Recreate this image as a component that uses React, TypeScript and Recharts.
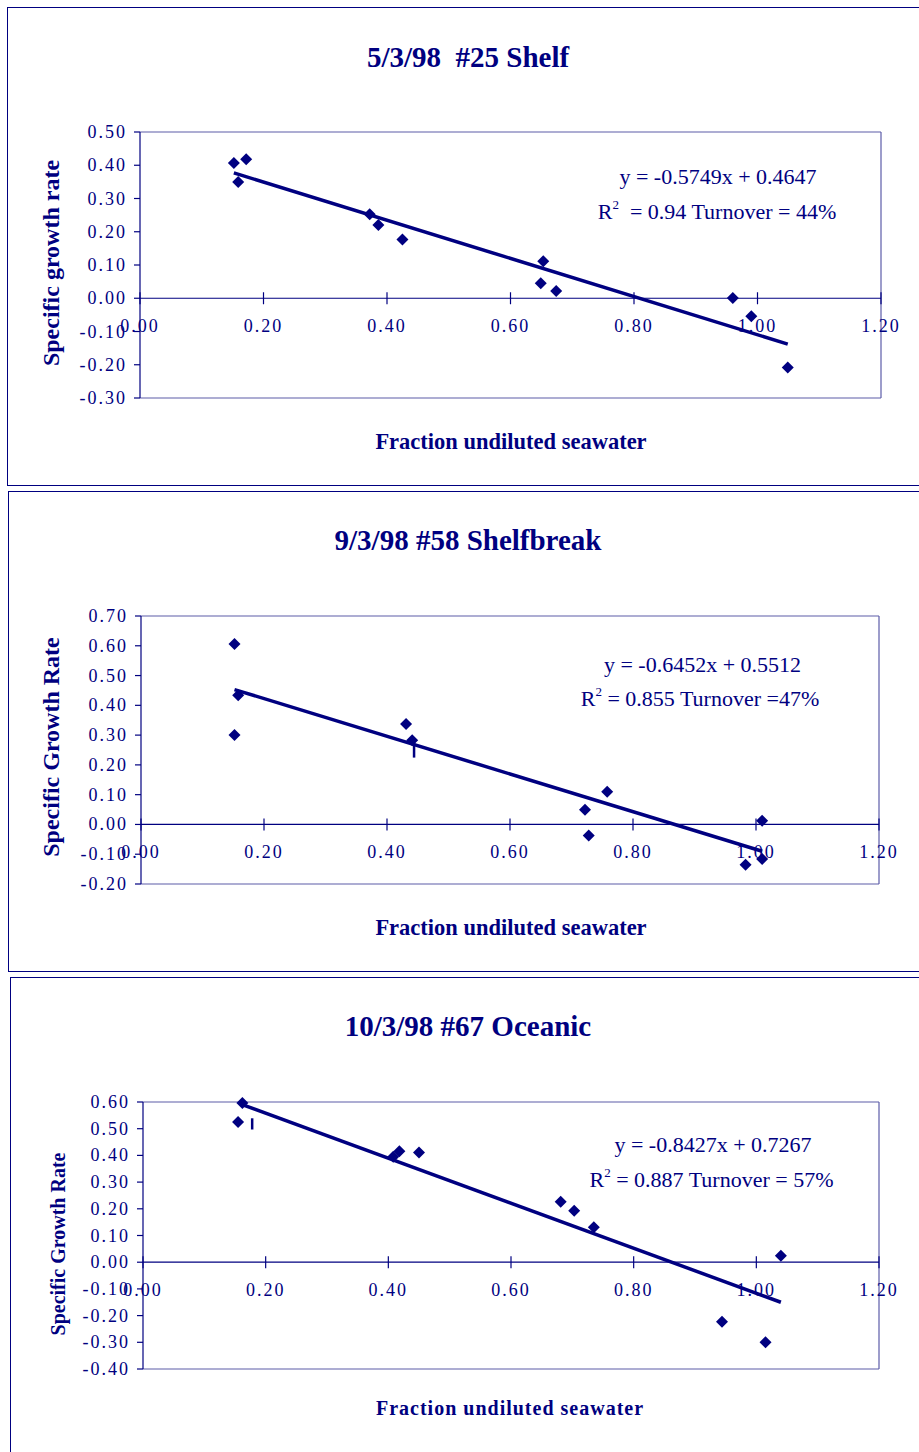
import React from "react";
import {
  ScatterChart,
  Scatter,
  XAxis,
  YAxis,
  ReferenceLine,
  ErrorBar,
} from "recharts";

const NAVY = "#000080";
const BOX = "#5c5ca8";
const FONT = '"Liberation Serif", "Times New Roman", Times, serif';

// ---------- data ----------
const xTicks = [0, 0.2, 0.4, 0.6, 0.8, 1.0, 1.2];

// Panel 1: 5/3/98 #25 Shelf
const shelfX = [0.152, 0.172, 0.159, 0.372, 0.386, 0.425, 0.653, 0.649, 0.674, 0.96, 0.99, 1.049];
const shelfY = [0.407, 0.418, 0.35, 0.253, 0.22, 0.177, 0.111, 0.045, 0.022, 0.001, -0.054, -0.208];
const shelfTrendX = [0.152, 1.049];
const shelfTrendY = [0.377, -0.138];
const shelfYTicks = [-0.3, -0.2, -0.1, 0, 0.1, 0.2, 0.3, 0.4, 0.5];

// Panel 2: 9/3/98 #58 Shelfbreak
const breakX = [0.152, 0.158, 0.152, 0.431, 0.441, 0.758, 0.722, 0.728, 1.01, 1.01, 0.983];
const breakY = [0.606, 0.434, 0.3, 0.337, 0.283, 0.11, 0.049, -0.037, 0.012, -0.116, -0.135];
const breakTrendX = [0.152, 1.01];
const breakTrendY = [0.453, -0.09];
const breakMarkX = [0.444];
const breakMarkY = [0.2545];
const breakMarkErr = [0.03];
const breakYTicks = [-0.2, -0.1, 0, 0.1, 0.2, 0.3, 0.4, 0.5, 0.6, 0.7];

// Panel 3: 10/3/98 #67 Oceanic
const oceanX = [0.162, 0.155, 0.408, 0.418, 0.45, 0.681, 0.703, 0.735, 1.04, 0.944, 1.015];
const oceanY = [0.596, 0.525, 0.395, 0.416, 0.411, 0.226, 0.193, 0.131, 0.024, -0.223, -0.3];
const oceanTrendX = [0.163, 1.04];
const oceanTrendY = [0.589, -0.15];
const oceanMarkX = [0.178];
const oceanMarkY = [0.518];
const oceanMarkErr = [0.021];
const oceanYTicks = [-0.4, -0.3, -0.2, -0.1, 0, 0.1, 0.2, 0.3, 0.4, 0.5, 0.6];

const zip = (xs: number[], ys: number[]) => xs.map((x, i) => ({ x, y: ys[i] }));
const zipErr = (xs: number[], ys: number[], es: number[]) =>
  xs.map((x, i) => ({ x, y: ys[i], err: es[i] }));

// ---------- shapes ----------
const Diamond = (props: any) => {
  const { cx, cy } = props;
  if (cx == null || cy == null) return <g />;
  const r = 6;
  return (
    <path
      d={`M${cx},${cy - r}L${cx + r},${cy}L${cx},${cy + r}L${cx - r},${cy}Z`}
      fill={NAVY}
    />
  );
};
const Empty = () => <g />;

const X_AXIS_H = 1;

type PanelProps = {
  top: number;
  height: number;
  margin: { top: number; right: number; bottom: number; left: number };
  yWidth: number;
  yDomain: [number, number];
  yTicks: number[];
  points: { x: number; y: number }[];
  trend: { x: number; y: number }[];
  marks?: { x: number; y: number; err: number }[];
};

function Panel({ top, height, margin, yWidth, yDomain, yTicks, points, trend, marks }: PanelProps) {
  const plotH = height - margin.top - margin.bottom - X_AXIS_H;
  const zeroY = margin.top + (plotH * yDomain[1]) / (yDomain[1] - yDomain[0]);

  const XTick = (p: any) => {
    const { x, payload } = p;
    return (
      <g>
        <line x1={x} x2={x} y1={zeroY - 6} y2={zeroY + 6} stroke={NAVY} strokeWidth={1.2} />
        <text
          x={x}
          y={zeroY + 28}
          textAnchor="middle"
          dominantBaseline="central"
          fontFamily={FONT}
          fontSize={18}
          letterSpacing={2}
          fill={NAVY}
        >
          {Number(payload.value).toFixed(2)}
        </text>
      </g>
    );
  };

  const YTick = (p: any) => {
    const { x, y, payload } = p;
    return (
      <text
        x={x}
        y={y}
        textAnchor="end"
        dominantBaseline="central"
        fontFamily={FONT}
        fontSize={18}
        letterSpacing={2}
        fill={NAVY}
      >
        {Number(payload.value).toFixed(2)}
      </text>
    );
  };

  return (
    <div style={{ position: "absolute", left: 0, top, width: 919, height }}>
      <ScatterChart width={919} height={height} margin={margin}>
        <XAxis
          type="number"
          dataKey="x"
          domain={[0, 1.2]}
          ticks={xTicks}
          interval={0}
          axisLine={false}
          tickLine={false}
          tick={XTick}
          height={X_AXIS_H}
        />
        <YAxis
          type="number"
          dataKey="y"
          domain={yDomain}
          ticks={yTicks}
          interval={0}
          width={yWidth}
          axisLine={{ stroke: NAVY, strokeWidth: 1.2 }}
          tickLine={{ stroke: NAVY, strokeWidth: 1.2 }}
          tickSize={6}
          tickMargin={7}
          tick={YTick}
        />
        <ReferenceLine y={yDomain[1]} stroke={BOX} strokeWidth={1.2} />
        <ReferenceLine y={yDomain[0]} stroke={BOX} strokeWidth={1.2} />
        <ReferenceLine x={1.2} stroke={BOX} strokeWidth={1.2} />
        <ReferenceLine y={0} stroke={NAVY} strokeWidth={1.2} />
        <Scatter
          data={trend}
          line={{ stroke: NAVY, strokeWidth: 3.5 }}
          shape={Empty}
          isAnimationActive={false}
        />
        <Scatter data={points} shape={Diamond} isAnimationActive={false} />
        {marks ? (
          <Scatter data={marks} shape={Empty} isAnimationActive={false}>
            <ErrorBar
              dataKey="err"
              direction="y"
              width={0}
              stroke={NAVY}
              strokeWidth={2.5}
              isAnimationActive={false}
            />
          </Scatter>
        ) : null}
      </ScatterChart>
    </div>
  );
}

const txt = { fontFamily: FONT, fill: NAVY } as const;

function Overlay() {
  return (
    <svg
      width={919}
      height={1452}
      style={{ position: "absolute", left: 0, top: 0, pointerEvents: "none" }}
    >
      {/* Panel 1 */}
      <text x={468} y={66.5} textAnchor="middle" fontSize={29} fontWeight="bold" {...txt}>
        {"5/3/98\u00A0 #25 Shelf"}
      </text>
      <text x={718} y={184} textAnchor="middle" fontSize={22} {...txt}>
        y = -0.5749x + 0.4647
      </text>
      <text x={717} y={219} textAnchor="middle" fontSize={22} {...txt}>
        R<tspan fontSize={13} dy={-10}>2</tspan>
        <tspan dy={10}>{"\u00A0 = 0.94 Turnover = 44%"}</tspan>
      </text>
      <text
        transform="translate(58.5,263) rotate(-90)"
        textAnchor="middle"
        fontSize={24}
        fontWeight="bold"
        {...txt}
      >
        Specific growth rate
      </text>
      <text x={511} y={449} textAnchor="middle" fontSize={22.5} fontWeight="bold" {...txt}>
        Fraction undiluted seawater
      </text>

      {/* Panel 2 */}
      <text x={468} y={550} textAnchor="middle" fontSize={29} fontWeight="bold" {...txt}>
        9/3/98 #58 Shelfbreak
      </text>
      <text x={702.5} y={672} textAnchor="middle" fontSize={22} {...txt}>
        y = -0.6452x + 0.5512
      </text>
      <text x={700} y={706} textAnchor="middle" fontSize={22} {...txt}>
        R<tspan fontSize={13} dy={-10}>2</tspan>
        <tspan dy={10}>{" = 0.855 Turnover =47%"}</tspan>
      </text>
      <text
        transform="translate(58.5,747) rotate(-90)"
        textAnchor="middle"
        fontSize={24}
        fontWeight="bold"
        {...txt}
      >
        Specific Growth Rate
      </text>
      <text x={511} y={934.5} textAnchor="middle" fontSize={22.5} fontWeight="bold" {...txt}>
        Fraction undiluted seawater
      </text>

      {/* Panel 3 */}
      <text x={468} y={1036} textAnchor="middle" fontSize={29} fontWeight="bold" {...txt}>
        10/3/98 #67 Oceanic
      </text>
      <text x={713} y={1152} textAnchor="middle" fontSize={22} {...txt}>
        y = -0.8427x + 0.7267
      </text>
      <text x={711.5} y={1187} textAnchor="middle" fontSize={22} {...txt}>
        R<tspan fontSize={13} dy={-10}>2</tspan>
        <tspan dy={10}>{" = 0.887 Turnover = 57%"}</tspan>
      </text>
      <text
        transform="translate(64.5,1244) rotate(-90)"
        textAnchor="middle"
        fontSize={20}
        fontWeight="bold"
        {...txt}
      >
        Specific Growth Rate
      </text>
      <text
        x={510}
        y={1415}
        textAnchor="middle"
        fontSize={20}
        fontWeight="bold"
        letterSpacing={1}
        {...txt}
      >
        Fraction undiluted seawater
      </text>
    </svg>
  );
}

export default function App() {
  const border = `1px solid ${NAVY}`;
  return (
    <div
      style={{
        position: "absolute",
        left: 0,
        top: 0,
        width: 919,
        height: 1452,
        overflow: "hidden",
        background: "#fff",
      }}
    >
      <div style={{ position: "absolute", left: 7, top: 7, width: 940, height: 479, border, boxSizing: "border-box" }} />
      <div style={{ position: "absolute", left: 8, top: 491, width: 940, height: 481, border, boxSizing: "border-box" }} />
      <div style={{ position: "absolute", left: 10, top: 977, width: 940, height: 500, border, boxSizing: "border-box" }} />

      <Panel
        top={0}
        height={470}
        margin={{ top: 132, right: 38, bottom: 71, left: 0 }}
        yWidth={140}
        yDomain={[-0.3, 0.5]}
        yTicks={shelfYTicks}
        points={zip(shelfX, shelfY)}
        trend={zip(shelfTrendX, shelfTrendY)}
      />
      <Panel
        top={480}
        height={470}
        margin={{ top: 136, right: 40, bottom: 65, left: 0 }}
        yWidth={141}
        yDomain={[-0.2, 0.7]}
        yTicks={breakYTicks}
        points={zip(breakX, breakY)}
        trend={zip(breakTrendX, breakTrendY)}
        marks={zipErr(breakMarkX, breakMarkY, breakMarkErr)}
      />
      <Panel
        top={960}
        height={480}
        margin={{ top: 142, right: 40, bottom: 70, left: 0 }}
        yWidth={143}
        yDomain={[-0.4, 0.6]}
        yTicks={oceanYTicks}
        points={zip(oceanX, oceanY)}
        trend={zip(oceanTrendX, oceanTrendY)}
        marks={zipErr(oceanMarkX, oceanMarkY, oceanMarkErr)}
      />
      <Overlay />
    </div>
  );
}
